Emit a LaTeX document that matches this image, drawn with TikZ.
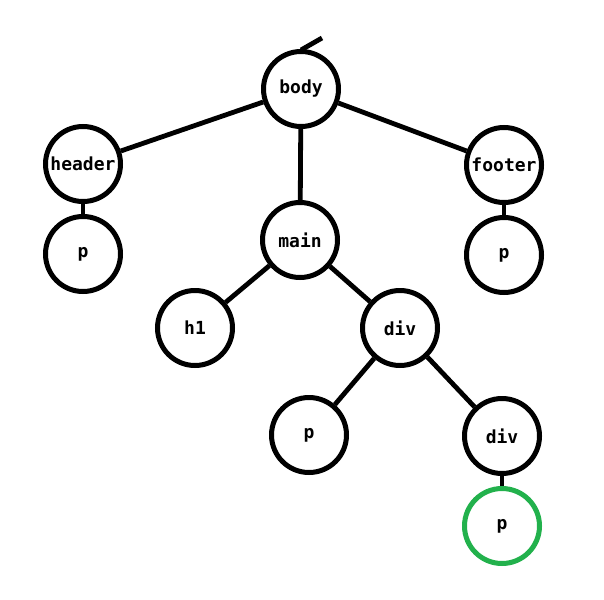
\documentclass[tikz,border=0pt]{standalone}
\usepackage{fontspec}
\newfontfamily\monob{DejaVu Sans Mono}
\definecolor{grn}{RGB}{34,177,76}
\begin{document}
\begin{tikzpicture}[x=1pt,y=-1pt,
  tn/.style={circle,draw=black,line width=5pt,fill=white,minimum size=75pt,inner sep=0pt,font=\monob\bfseries\fontsize{18}{18}\selectfont},
  edge/.style={line width=4.8pt}]
\useasboundingbox (0,0) rectangle (604,599);
\node[tn] (body) at (301,89) {body};
\node[tn] (header) at (83,164) {header};
\node[tn] (p1) at (83,254) {p};
\node[tn] (main) at (300,240) {main};
\node[tn] (footer) at (504,165) {footer};
\node[tn] (p2) at (504,255) {p};
\node[tn] (h1) at (195,328) {h1};
\node[tn] (div1) at (400,328) {div};
\node[tn] (p3) at (309,435) {p};
\node[tn] (div2) at (502,436) {div};
\node[tn,draw=grn] (p4) at (502,526) {p};
\coordinate (top) at (322,38);
\draw[edge] (body) -- (header);
\draw[edge] (body) -- (main);
\draw[edge] (body) -- (footer);
\draw[edge] (header) -- (p1);
\draw[edge] (footer) -- (p2);
\draw[edge] (main) -- (h1);
\draw[edge] (main) -- (div1);
\draw[edge] (div1) -- (p3);
\draw[edge] (div1) -- (div2);
\draw[edge] (div2) -- (p4);
\draw[edge] (body.north) ++(0,1) -- (top);
\end{tikzpicture}
\end{document}
